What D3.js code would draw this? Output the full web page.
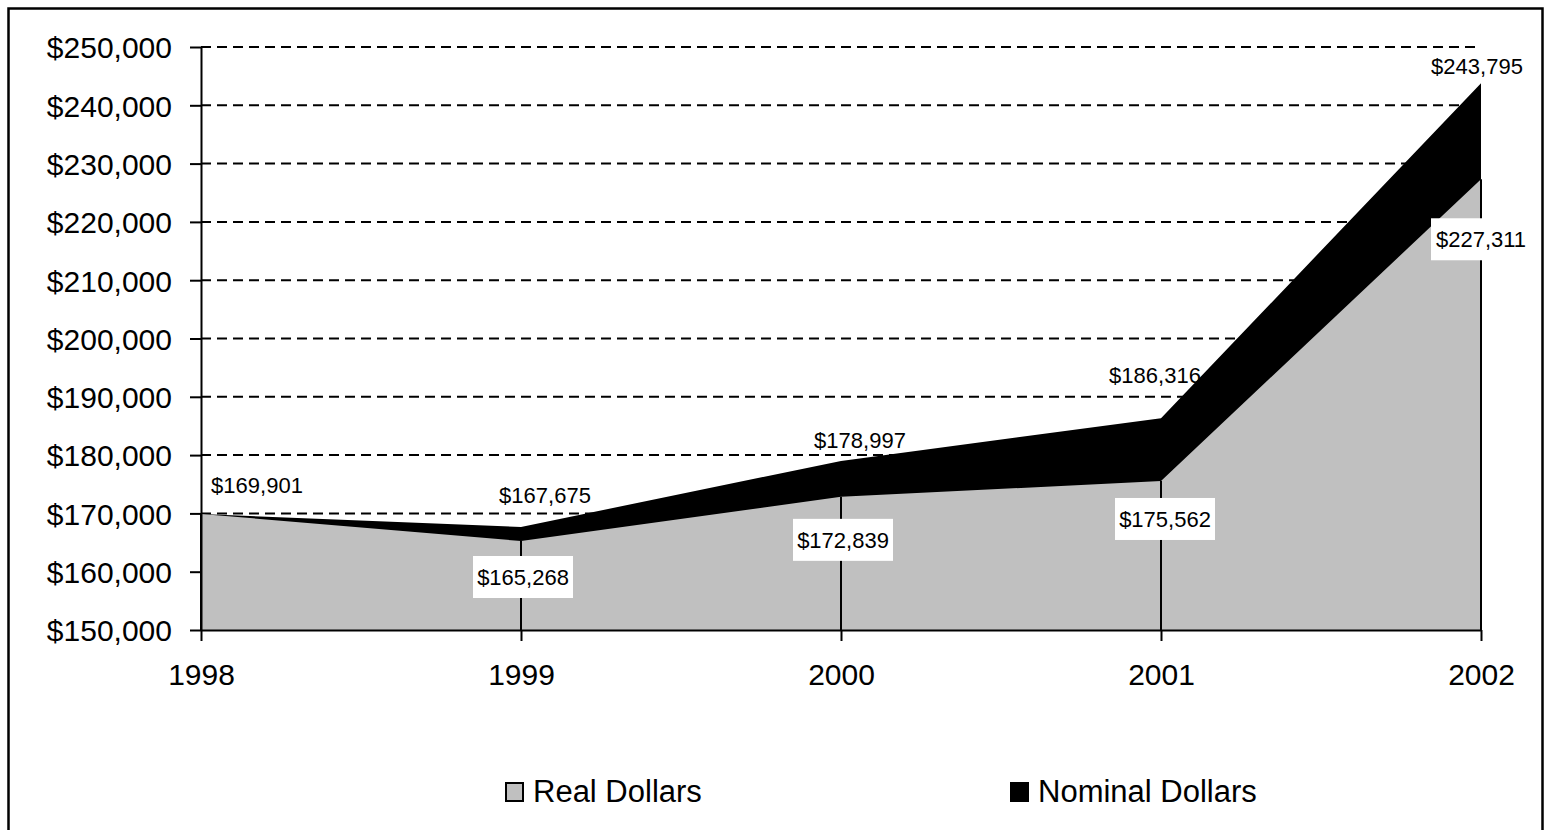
<!DOCTYPE html>
<html>
<head>
<meta charset="utf-8">
<script src="https://cdn.jsdelivr.net/npm/d3@7"></script>
<style>
  body { margin: 0; background: #fff; }
  text { font-family: "Liberation Sans", Arial, sans-serif; fill: #000; }
</style>
</head>
<body>
<div id="chart"></div>
<script>
// chart values
var years = [1998, 1999, 2000, 2001, 2002];
var nominalDollars = [169901, 167675, 178997, 186316, 243795];
var realDollars = [169901, 165268, 172839, 175562, 227311];
var yTicks = [150000, 160000, 170000, 180000, 190000, 200000, 210000, 220000, 230000, 240000, 250000];
var legendNames = ["Real Dollars", "Nominal Dollars"];

// label placement, relative to each point (layout only)
var nominalLabelShift = [[56, -29], [24, -32], [19, -21], [-6, -43], [-4, -17]];
var realLabelShift = [null, [2, 36], [2, 43], [4, 38], [0, 60]];

function drawChart(id) {
  var width = 1546, height = 830;
  var plotLeft = 201, plotRight = 1481, plotTop = 47, plotBottom = 630;

  var svg = d3.select(id).append("svg")
      .attr("width", width)
      .attr("height", height);

  // outer frame
  svg.append("rect")
      .attr("x", 8.5).attr("y", 8.5)
      .attr("width", 1534).attr("height", 840)
      .attr("fill", "none")
      .attr("stroke", "#000")
      .attr("stroke-width", 2.5);

  var x = d3.scaleLinear().domain([1998, 2002]).range([plotLeft, plotRight]);
  var y = d3.scaleLinear().domain([150000, 250000]).range([plotBottom, plotTop]);

  var rows = years.map(function(yr, i) {
    return { year: yr, nominal: nominalDollars[i], real: realDollars[i] };
  });

  // dashed gridlines
  svg.append("g").selectAll("line")
      .data(yTicks.filter(function(t) { return t > 150000; }))
    .enter().append("line")
      .attr("x1", plotLeft).attr("x2", plotRight)
      .attr("y1", function(d) { return y(d); })
      .attr("y2", function(d) { return y(d); })
      .attr("stroke", "#000")
      .attr("stroke-width", 2)
      .attr("stroke-dasharray", "10,6");

  // areas: nominal behind, real in front
  var areaNominal = d3.area()
      .x(function(d) { return x(d.year); })
      .y0(y(150000))
      .y1(function(d) { return y(d.nominal); });
  var areaReal = d3.area()
      .x(function(d) { return x(d.year); })
      .y0(y(150000))
      .y1(function(d) { return y(d.real); });

  svg.append("path").datum(rows).attr("d", areaNominal).attr("fill", "#000");
  svg.append("path").datum(rows).attr("d", areaReal).attr("fill", "#c0c0c0");

  // drop lines at each year on the real series
  svg.append("g").selectAll("line")
      .data(rows)
    .enter().append("line")
      .attr("x1", function(d) { return x(d.year); })
      .attr("x2", function(d) { return x(d.year); })
      .attr("y1", function(d) { return y(d.real); })
      .attr("y2", plotBottom)
      .attr("stroke", "#000")
      .attr("stroke-width", 2);

  // axes
  var yAxis = svg.append("g")
      .attr("transform", "translate(" + plotLeft + ",0)")
      .call(d3.axisLeft(y).tickValues(yTicks).tickSize(11).tickSizeOuter(0).tickPadding(18)
        .tickFormat(d3.format("$,")));
  var xAxis = svg.append("g")
      .attr("transform", "translate(0," + plotBottom + ")")
      .call(d3.axisBottom(x).tickValues(years).tickSize(11).tickSizeOuter(0)
        .tickFormat(d3.format("d")));

  [yAxis, xAxis].forEach(function(ax) {
    ax.attr("font-family", null).attr("font-size", null);
    ax.select(".domain").attr("stroke", "#000").attr("stroke-width", 2);
    ax.selectAll(".tick line").attr("stroke", "#000").attr("stroke-width", 2);
    ax.selectAll("text").attr("fill", "#000").style("font-size", "30px");
  });
  yAxis.selectAll("text").attr("dy", "0.36em");
  xAxis.selectAll("text").attr("y", 55).attr("dy", 0);

  var fmt = d3.format("$,");

  // nominal labels (plain)
  svg.append("g").selectAll("text")
      .data(rows)
    .enter().append("text")
      .attr("x", function(d, i) { return x(d.year) + nominalLabelShift[i][0]; })
      .attr("y", function(d, i) { return y(d.nominal) + nominalLabelShift[i][1]; })
      .attr("dy", "0.36em")
      .attr("text-anchor", "middle")
      .style("font-size", "22px")
      .text(function(d) { return fmt(d.nominal); });

  // real labels (white boxes)
  var realLabels = svg.append("g").selectAll("g")
      .data(rows.filter(function(d, i) { return realLabelShift[i]; }))
    .enter().append("g")
      .attr("transform", function(d) {
        var i = years.indexOf(d.year);
        return "translate(" + (x(d.year) + realLabelShift[i][0]) + "," + (y(d.real) + realLabelShift[i][1]) + ")";
      });
  realLabels.append("rect")
      .attr("x", -50).attr("y", -21)
      .attr("width", 100).attr("height", 42)
      .attr("fill", "#fff");
  realLabels.append("text")
      .attr("text-anchor", "middle")
      .attr("dy", "0.36em")
      .style("font-size", "22px")
      .text(function(d) { return fmt(d.real); });

  // legend
  var legendX = [505, 1010];
  var legendFill = ["#c0c0c0", "#000"];
  var legend = svg.append("g").selectAll("g")
      .data(legendNames)
    .enter().append("g")
      .attr("transform", function(d, i) { return "translate(" + legendX[i] + ",782)"; });
  legend.append("rect")
      .attr("x", 1).attr("y", 1)
      .attr("width", 17).attr("height", 18)
      .attr("fill", function(d, i) { return legendFill[i]; })
      .attr("stroke", "#000")
      .attr("stroke-width", 2);
  legend.append("text")
      .attr("x", 28)
      .attr("y", 20)
      .style("font-size", "31px")
      .text(function(d) { return d; });
}

drawChart("#chart");
</script>
</body>
</html>
